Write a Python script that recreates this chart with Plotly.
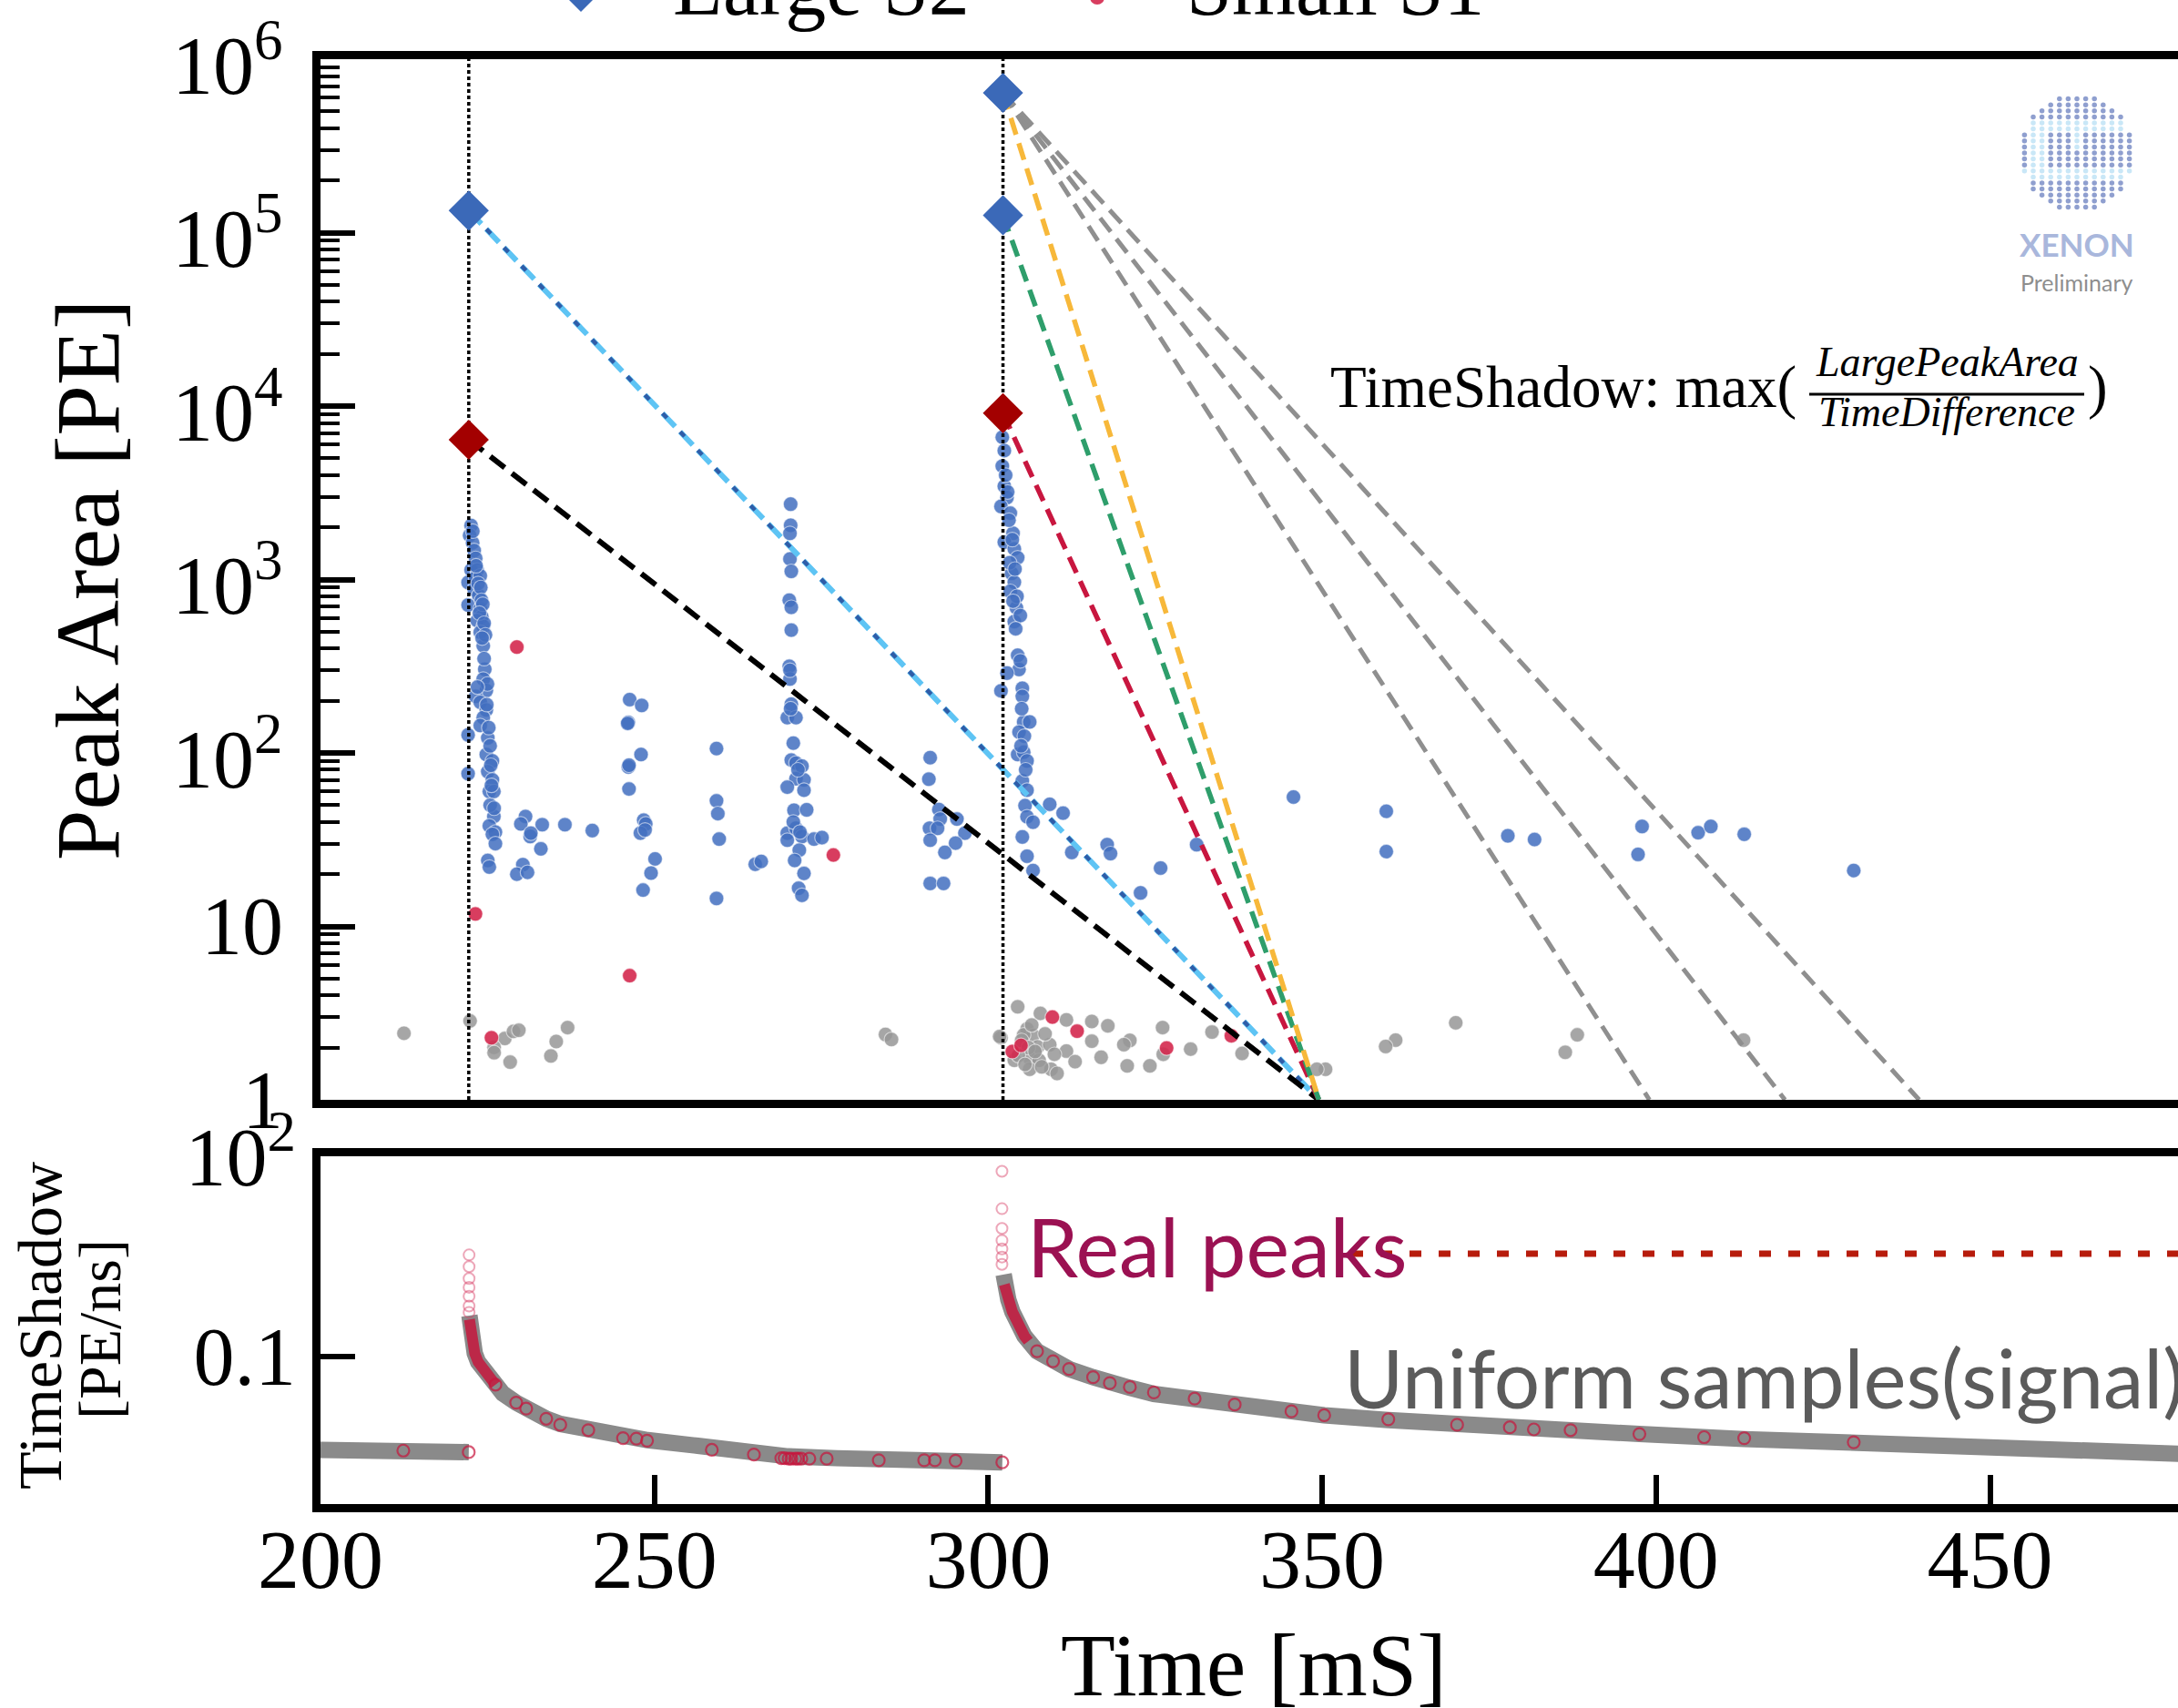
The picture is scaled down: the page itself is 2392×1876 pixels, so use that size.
import plotly.graph_objects as go

# ---------------------------------------------------------------- data ----
# Peaks in the event window: time [ms], area [PE]
s2_time = [222.55, 222.33, 222.78, 223.01, 223.24, 222.55, 223.46, 222.1, 223.24, 223.92,
           223.01, 223.69, 222.1, 223.92, 224.15, 223.46, 224.37, 223.92, 224.37, 224.6,
           224.37, 224.83, 223.24, 223.92, 224.83, 224.37, 223.92, 222.1, 225.05, 224.83,
           225.74, 222.1, 225.05, 225.74, 225.28, 225.96, 225.96, 225.28, 226.19, 225.74,
           226.19, 225.05, 225.28, 222.8, 223.3, 223.6, 224.0, 224.1, 224.3, 223.8,
           224.5, 224.7, 224.2, 225.0, 224.5, 223.5, 224.9, 225.2, 225.4, 225.5,
           225.6, 225.4, 226.0,
           230.7, 230.0, 231.4, 233.2, 236.6, 240.7, 233.0, 230.3, 229.4, 231.0, 231.5,
           246.3, 248.1, 246.1, 248.0, 246.1, 246.2, 248.4, 248.7, 247.9, 250.1, 249.5,
           248.3, 246.0, 246.2, 248.6,
           259.3, 259.3, 259.5, 259.7, 259.3, 265.1, 266.0,
           270.4, 270.4, 270.3, 270.3, 270.5, 270.2, 270.5, 270.5, 270.2, 270.3, 270.5,
           269.9, 271.2, 270.8, 270.5, 271.2, 272.1, 271.2, 272.4, 269.9, 272.4, 270.9,
           272.8, 269.9, 271.2, 272.1, 273.9, 275.1, 269.9, 271.7, 271.0, 272.4, 271.6,
           272.1, 270.3, 270.4, 271.5, 270.8, 271.8,
           291.3, 291.1, 292.6, 292.8, 291.2, 292.4, 291.3, 295.3, 296.5, 295.1, 293.5,
           291.3, 293.3,
           302.1, 302.4, 302.1, 302.4, 302.8, 301.9, 303.3, 303.7, 302.4, 303.9, 304.4,
           303.5, 303.9, 303.3, 304.2, 303.9, 304.4, 304.6, 302.8, 301.9, 305.1, 305.1,
           305.3, 306.2, 304.6, 304.4, 305.3, 305.8, 305.1, 305.8, 305.5, 305.8, 306.7,
           305.1, 305.8, 306.7, 302.6, 302.9, 303.1, 303.6, 303.2, 304.0, 304.3, 303.7,
           304.8, 304.1, 304.8, 305.0, 305.4, 304.9, 305.6,
           309.2, 311.2, 312.5, 317.8, 318.3, 325.8, 322.8, 331.2, 345.7, 359.6, 359.6,
           377.8, 381.8, 397.9, 397.3, 406.3, 408.2, 413.2, 429.6]
s2_area = [2050, 1800, 1630, 1470, 1325, 1135, 1135, 962, 1023, 1050,
           877, 811, 713, 678, 611, 580, 537, 497, 415, 304,
           267, 229, 212, 196, 177, 160, 144, 127, 122, 98,
           90, 76, 78, 70, 60, 60, 43, 38, 35, 34,
           30, 24, 22, 1900, 1200, 950, 900, 760, 720, 640,
           560, 480, 460, 250, 350, 240, 190, 140, 110, 85,
           65, 50, 48,
           43, 39, 33, 38.6, 38.6, 35.7, 28, 22.7, 20, 20.5, 34.5,
           203, 188, 150, 98, 83, 62, 41, 39, 34.5, 24.5, 20.3,
           16.2, 148, 85, 36,
           106, 53, 44.7, 31.9, 14.5, 22.8, 23.7,
           2720, 2055, 1847, 1315, 1115, 760, 692, 511, 316, 267, 191,
           160, 160, 114, 91, 87.5, 84, 71, 70, 63.5, 61, 46.7,
           47, 34.5, 36.8, 33, 31.9, 32.5, 31.4, 27.5, 24, 20.2, 16.6,
           15.1, 300, 180, 80, 40, 35,
           94, 70.6, 47.2, 41.6, 36.8, 36.8, 31.4, 41.6, 34.5, 30.2, 26.7,
           17.7, 17.7,
           6620, 5540, 4510, 3450, 2970, 2640, 2415, 1850, 1643, 1502, 1336,
           1086, 964, 855, 687, 572, 366, 303, 289, 228, 236, 212,
           151, 151, 132, 98, 101, 90, 69, 61, 49.7, 42.9, 39.9,
           32.8, 25.4, 21, 4000, 3200, 2200, 1700, 1250, 1150, 800, 750,
           620, 520, 340, 180, 125, 110, 80,
           50.6, 45, 26.7, 29.6, 26.3, 21.7, 15.6, 29.6, 55.7, 46.1, 27,
           33.3, 31.7, 37.7, 26, 34.7, 37.7, 34, 21]

s1_time = [229.4, 223.2, 246.3, 225.6, 276.8, 309.6, 313.3, 303.6, 304.9, 326.7, 336.4]
s1_area = [408, 11.8, 5.2, 2.28, 25.8, 3.0, 2.49, 1.9, 2.06, 1.99, 2.34]

other_time = [212.5, 222.4, 227.6, 228.9, 229.7, 226.0, 226.0, 228.4, 235.3, 237.0, 234.5,
              284.6, 285.5, 301.9, 304.4, 301.7, 307.8, 311.7, 315.5, 317.9, 326.1, 333.5,
              305.8, 306.7, 305.3, 307.4, 309.2, 311.7, 315.5, 321.2, 320.3, 330.3, 338.0,
              309.9, 303.9, 306.2, 307.6, 306.2, 309.4, 310.3, 313.0, 316.9, 320.8, 324.2,
              326.2, 350.5, 349.2, 370.0, 361.0, 359.5, 388.2, 386.4, 413.1,
              305.0, 306.0, 307.0, 304.5, 308.5, 306.5, 305.5, 308.0]
other_area = [2.42, 2.85, 2.26, 2.48, 2.52, 2.01, 1.87, 1.65, 2.17, 2.61, 1.79,
              2.38, 2.23, 2.28, 3.44, 2.32, 3.15, 2.89, 2.83, 2.67, 2.61, 2.46,
              2.56, 2.35, 2.37, 2.02, 2.08, 1.91, 2.18, 2.2, 2.08, 1.96, 1.85,
              1.83, 1.69, 1.74, 1.69, 1.5, 1.5, 1.42, 1.66, 1.76, 1.57, 1.57,
              1.83, 1.5, 1.5, 2.78, 2.21, 2.03, 2.37, 1.88, 2.21,
              2.2, 2.0, 1.9, 1.8, 2.4, 2.7, 1.6, 1.55]

large_s2_time = [222.2, 302.2, 302.2]
large_s2_area = [1.34e5, 6.4e5, 1.26e5]
large_s1_time = [222.2, 302.2]
large_s1_area = [6.4e3, 9.1e3]

# Shadow guide lines: start time, start area, end time (at 1 PE)
guide_start_time = [222.2, 222.2, 222.2, 302.2, 302.2, 302.2, 302.2, 302.2, 302.2]
guide_start_area = [1.34e5, 1.34e5, 6.4e3, 9.1e3, 1.26e5, 6.4e5, 6.4e5, 6.4e5, 6.4e5]
guide_end_time = [349.5, 349.5, 349.5, 349.5, 349.5, 349.5, 399.0, 419.3, 439.4]
guide_colors = ["#5EC4F4", "#2F5DA8", "#000000", "#C8163F", "#2E9E6B", "#F7B83A",
                "#8F8F8F", "#8F8F8F", "#8F8F8F"]

# TimeShadow of uniformly sampled positions [PE/ns]
band1_time = [200, 205, 210, 215, 220, 222.2]
band1_shadow = [0.0040, 0.0040, 0.0039, 0.0039, 0.0038, 0.0037]
band2_time = [222.3, 222.5, 222.8, 223.1, 223.6, 224.1, 225.2, 226.2, 227.3, 229.3, 230.8,
              233.8, 235.9, 240.1, 245.3, 249.0, 256.5, 264.9, 270.0, 277.3, 287.8, 295.0, 302.1]
band2_shadow = [0.41, 0.25, 0.16, 0.112, 0.083, 0.071, 0.050, 0.038, 0.028, 0.0204, 0.0166,
                0.0117, 0.0098, 0.0079, 0.0063, 0.0056, 0.0046, 0.0035, 0.0032, 0.0030,
                0.0028, 0.00275, 0.0026]
band3_time = [302.3, 302.4, 303.0, 303.6, 305.4, 307.3, 309.7, 312.1, 315.7, 318.2, 321.2,
              324.8, 330.9, 336.9, 345.4, 350.3, 359.9, 370.2, 381.7, 397.5, 413.2, 429.6,
              445.9, 462.0, 478.3]
band3_shadow = [1.70, 1.38, 0.71, 0.47, 0.204, 0.120, 0.085, 0.065, 0.049, 0.040, 0.034,
                0.0275, 0.0224, 0.0186, 0.0148, 0.0132, 0.0112, 0.0095, 0.0081, 0.0069,
                0.0058, 0.0050, 0.0041, 0.0037, 0.0035]

# TimeShadow evaluated at the real peaks [PE/ns]
peak_shadow_time = [212.4, 222.2, 226.2, 229.3, 230.8, 233.8, 235.9, 240.1, 245.3, 247.3,
                    248.9, 258.6, 264.9, 269.0, 269.5, 270.1, 270.5, 271.1, 271.5, 272.0,
                    273.2, 275.8, 283.6, 290.4, 292.0, 295.1, 302.1,
                    307.3, 309.7, 312.1, 315.7, 318.2, 321.2, 324.8, 330.9, 336.9, 345.4,
                    350.3, 359.9, 370.2, 378.1, 381.7, 387.2, 397.5, 407.2, 413.2, 429.6]
peak_shadow = [0.0039, 0.0037, 0.038, 0.0204, 0.0166, 0.0117, 0.0095, 0.0079, 0.0060, 0.0059,
               0.0055, 0.0040, 0.0034, 0.0030, 0.0030, 0.00295, 0.00295, 0.00295, 0.00295,
               0.00295, 0.00295, 0.00295, 0.0028, 0.0028, 0.0028, 0.00275, 0.0026,
               0.120, 0.085, 0.065, 0.049, 0.040, 0.035, 0.029, 0.0234, 0.0191, 0.0151,
               0.0132, 0.0115, 0.0095, 0.0087, 0.0081, 0.0079, 0.0069, 0.0062, 0.0060, 0.0052]
spike_shadow_time = [222.25] * 7 + [302.05] * 7
spike_shadow = [3.33, 2.22, 1.48, 1.09, 0.80, 0.57, 0.46,
                59.6, 16.4, 8.3, 5.5, 4.1, 3.1, 2.4]
dense_time_a = [222.3, 222.5, 222.8, 223.1, 223.6, 224.1, 225.2, 226.2]
dense_shadow_a = [0.36, 0.25, 0.16, 0.112, 0.083, 0.071, 0.050, 0.038]
dense_time_b = [302.4, 303.0, 303.6, 305.4, 306.0]
dense_shadow_b = [1.20, 0.71, 0.47, 0.204, 0.17]

x_ticks = [200, 250, 300, 350, 400, 450]
area_decades = [0, 1, 2, 3, 4, 5, 6]
area_tick_text = ["1", "10", "10<sup>2</sup>", "10<sup>3</sup>", "10<sup>4</sup>",
                  "10<sup>5</sup>", "10<sup>6</sup>"]

# ------------------------------------------------------------ geometry ----
W, H = 2392, 1876
ML, MT, MB = 352, 65, 224
PLOT_H = H - MT - MB
TOP_BOTTOM_PX = 1208
X_RANGE = [200, 200 + (W - ML) / 7.334]
Y_TOP = 6.0005
SERIF = "Liberation Serif"
SANS = "Lato"


def fx(px):
    return (px - ML) / (W - ML)


def fy(py):
    return (H - MB - py) / PLOT_H


fig = go.Figure()

# ------------------------------------------------------------ top panel ---
dot = dict(size=16, line=dict(width=1.2, color="rgba(255,255,255,0.55)"))
fig.add_trace(go.Scatter(x=other_time, y=other_area, mode="markers", xaxis="x", yaxis="y",
                         marker=dict(color="rgba(150,150,150,0.85)", **dot)))
fig.add_trace(go.Scatter(x=s2_time, y=s2_area, mode="markers", xaxis="x", yaxis="y",
                         marker=dict(color="rgba(66,110,192,0.85)", **dot)))
fig.add_trace(go.Scatter(x=s1_time, y=s1_area, mode="markers", xaxis="x", yaxis="y",
                         marker=dict(color="rgba(212,40,78,0.9)", **dot)))

dashes = ["20px,8px", "7px,21px", "20px,10px"] + ["19px,10px"] * 6
widths = [6, 4.5, 6, 5.5, 5.5, 5.5, 5, 5, 5]
for t0, a0, t1, col, dsh, lw in zip(guide_start_time, guide_start_area, guide_end_time,
                                     guide_colors, dashes, widths):
    fig.add_trace(go.Scatter(x=[t0, t1], y=[a0, 1], mode="lines", xaxis="x", yaxis="y",
                             line=dict(color=col, width=lw, dash=dsh)))

for t in large_s1_time:
    fig.add_trace(go.Scatter(x=[t, t], y=[1, 1e6], mode="lines", xaxis="x", yaxis="y",
                             line=dict(color="black", width=3.5, dash="4px,3px")))

fig.add_trace(go.Scatter(x=large_s2_time, y=large_s2_area, mode="markers", xaxis="x", yaxis="y",
                         marker=dict(symbol="diamond", size=34, color="#3B69B8")))
fig.add_trace(go.Scatter(x=large_s1_time, y=large_s1_area, mode="markers", xaxis="x", yaxis="y",
                         marker=dict(symbol="diamond", size=34, color="#A30000")))

# ---------------------------------------------------------- lower panel ---
for bt, bs in ((band1_time, band1_shadow), (band2_time, band2_shadow), (band3_time, band3_shadow)):
    fig.add_trace(go.Scatter(x=bt, y=bs, mode="lines", xaxis="x2", yaxis="y2",
                             line=dict(color="#8A8A8A", width=18)))
for dt, ds in ((dense_time_a, dense_shadow_a), (dense_time_b, dense_shadow_b)):
    fig.add_trace(go.Scatter(x=dt, y=ds, mode="lines", xaxis="x2", yaxis="y2",
                             line=dict(color="rgba(196,22,60,0.85)", width=12)))
fig.add_trace(go.Scatter(x=peak_shadow_time, y=peak_shadow, mode="markers", xaxis="x2", yaxis="y2",
                         marker=dict(symbol="circle-open", size=13, color="rgba(200,20,60,0.7)",
                                     line=dict(width=2.2))))
fig.add_trace(go.Scatter(x=spike_shadow_time, y=spike_shadow, mode="markers", xaxis="x2", yaxis="y2",
                         marker=dict(symbol="circle-open", size=12, color="rgba(215,60,100,0.45)",
                                     line=dict(width=2))))

# ---------------------------------------------------------- logo layer ----
logo_x, logo_y, logo_c = [], [], []
cx, cy, rad = 2281, 168, 62.5
for i in range(-6, 7):
    for j in range(-9, 10):
        px, py = cx + 9.6 * i, cy + 6.6 * j
        if ((px - cx) / rad) ** 2 + ((py - cy) / rad) ** 2 <= 1.0:
            light = (j in (-5, -4) and i >= -5) or (j in (3, 4)) or (i == 0 and -4 <= j <= -1) \
                or (i in (-5, -4) and -4 <= j <= 4)
            logo_x.append(px)
            logo_y.append(py)
            logo_c.append("#C9E7F7" if light else "#8F9FCF")
fig.add_trace(go.Scatter(x=logo_x, y=logo_y, mode="markers", xaxis="x3", yaxis="y3",
                         marker=dict(size=5.5, color=logo_c)))

# -------------------------------------------------------------- layout ----
axis_line = dict(showline=True, linecolor="black", linewidth=9, showgrid=False, zeroline=False)
tick_font = dict(family=SERIF, size=90, color="black")

fig.update_layout(
    width=W, height=H, autosize=False, showlegend=False,
    paper_bgcolor="white", plot_bgcolor="rgba(0,0,0,0)",
    margin=dict(l=ML, r=0, t=MT, b=MB, pad=0),
    xaxis=dict(domain=[0, 1], range=X_RANGE, anchor="y", mirror=True, ticks="",
               showticklabels=False, **axis_line),
    yaxis=dict(domain=[fy(TOP_BOTTOM_PX), 1], type="log", range=[0, Y_TOP], anchor="x",
               mirror=False, tickmode="linear", tick0=0, dtick=1, showticklabels=False,
               ticks="inside", ticklen=38, tickwidth=6, tickcolor="black",
               minor=dict(ticks="inside", ticklen=21, tickwidth=4, tickcolor="black",
                          dtick="D1", showgrid=False),
               **axis_line),
    xaxis2=dict(domain=[0, 1], range=X_RANGE, anchor="y2", mirror=True,
                tickmode="array", tickvals=x_ticks, ticktext=[str(v) for v in x_ticks],
                ticks="inside", ticklen=32, tickwidth=6, tickcolor="black",
                tickfont=dict(family=SERIF, size=92, color="black"), ticklabelstandoff=-27,
                **axis_line),
    yaxis2=dict(domain=[0, fy(1270)], type="log", range=[-3.21, 2.0005], anchor="x2", mirror=False,
                tickmode="array", tickvals=[0.1, 100], ticktext=["0.1", "10<sup>2</sup>"],
                ticks="inside", ticklen=38, tickwidth=6, tickcolor="black",
                tickfont=tick_font, ticklabelstandoff=0, **axis_line),
    xaxis3=dict(domain=[0, 1], range=[ML, W], anchor="y3", visible=False, fixedrange=True),
    yaxis3=dict(domain=[0, 1], range=[H - MB, MT], anchor="x3", visible=False, fixedrange=True),
)


def label(text, px, py, size, family=SERIF, color="black", xanchor="center", angle=0):
    fig.add_annotation(text=text, x=fx(px), y=fy(py), xref="paper", yref="paper",
                       xanchor=xanchor, yanchor="middle", textangle=angle, showarrow=False,
                       font=dict(family=family, size=size, color=color))


# peak-area tick labels, one per decade
decade_px = (TOP_BOTTOM_PX - MT) / Y_TOP
for k, txt in zip(area_decades, area_tick_text):
    label(txt, 313, TOP_BOTTOM_PX - k * decade_px, 90, xanchor="right")

# axis titles
label("Peak Area [PE]", 96, 637, 100, angle=-90)
label("TimeShadow", 44, 1456, 68, angle=-90)
label("[PE/ns]", 109, 1460, 66, angle=-90)
label("Time [mS]", 1377, 1829, 98)

# legend row along the top edge
label("Large S2", 737, -14, 90, xanchor="left")
label("Small S1", 1301, -14, 90, xanchor="left")
fig.add_shape(type="path", xref="paper", yref="paper",
              path=f"M {fx(638)},{fy(-21)} L {fx(655)},{fy(-4)} L {fx(638)},{fy(13)} "
                   f"L {fx(621)},{fy(-4)} Z",
              fillcolor="#3B69B8", line=dict(width=0))
fig.add_shape(type="circle", xref="paper", yref="paper",
              x0=fx(1197), x1=fx(1213), y0=fy(-11), y1=fy(5),
              fillcolor="rgba(212,40,78,0.9)", line=dict(width=0))

# TimeShadow definition
label("TimeShadow: max(", 1975, 425, 65, xanchor="right")
label("<i>LargePeakArea</i>", 2138, 397, 46)
label("<i>TimeDifference</i>", 2138, 452, 46)
label(")", 2291, 425, 65, xanchor="left")
fig.add_shape(type="line", xref="paper", yref="paper", x0=fx(1987), x1=fx(2289),
              y0=fy(433), y1=fy(433), line=dict(color="black", width=3))

# logo text
label("<b>XENON</b>", 2281, 268, 35, family=SANS, color="#A9B7DC")
label("Preliminary", 2281, 310, 25, family=SANS, color="#8E8E8E")

# lower panel call-outs
label("Real peaks", 1126, 1368, 90, family=SANS, color="#9B1152", xanchor="left")
label("Uniform samples(signal)", 1474, 1512, 89, family=SANS, color="#5B5B5B", xanchor="left")
fig.add_shape(type="line", xref="paper", yref="paper", x0=fx(1484), x1=fx(2400),
              y0=fy(1377), y1=fy(1377), line=dict(color="#B71C0C", width=7, dash="13px,19px"))

fig.write_html("out.html")
